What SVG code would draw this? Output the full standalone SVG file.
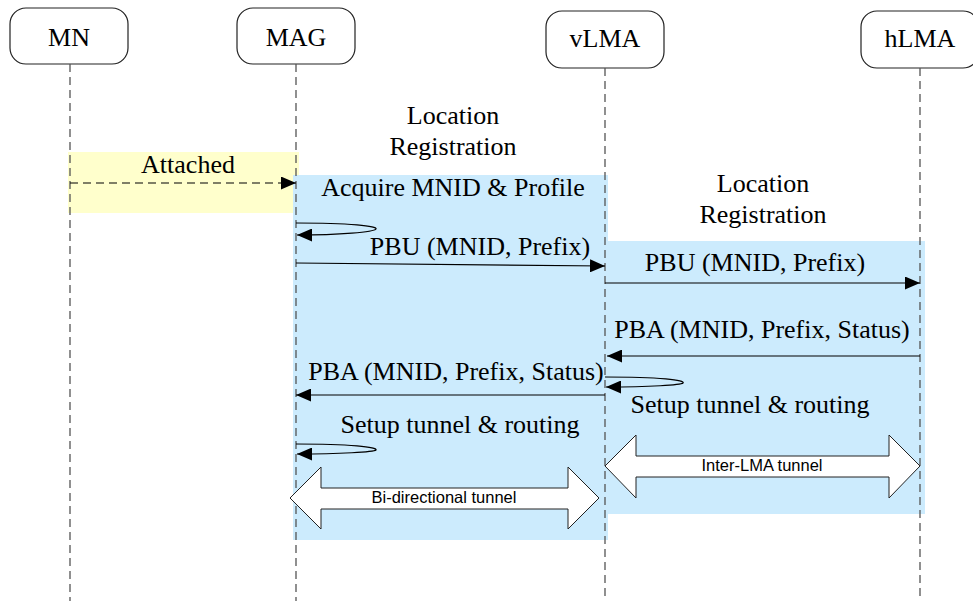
<svg xmlns="http://www.w3.org/2000/svg" width="973" height="601" viewBox="0 0 973 601">
<style>
.box{fill:#fff;stroke:#222;stroke-width:1.2}
.life{stroke:#555;stroke-width:1.3;stroke-dasharray:8 5;fill:none}
.msg{stroke:#000;stroke-width:1.2;fill:none}
.t{font-family:"Liberation Serif","Times New Roman",serif;font-size:26px;fill:#000;text-anchor:middle}
.s{font-family:"Liberation Sans",Arial,sans-serif;font-size:16.5px;fill:#000;text-anchor:middle}
.tun{fill:#fff;stroke:#222;stroke-width:1}
</style>
<defs>
<marker id="ah" markerUnits="userSpaceOnUse" markerWidth="15" markerHeight="13" refX="15" refY="6.5" orient="auto">
<path d="M0,0 L15,6.5 L0,13 z" fill="#000"/>
</marker>
</defs>
<g id="regions">
<rect x="68" y="152" width="231" height="61" fill="#FFFFCC"/>
<rect x="293" y="175" width="315" height="365" fill="#CCEBFD"/>
<rect x="607" y="241" width="318" height="273" fill="#CCEBFD"/>
</g>
<g id="node-MN">
<rect class="box" x="10" y="8" width="118" height="56" rx="16"/>
<text class="t" x="69" y="46">MN</text>
<line class="life" x1="70" y1="64" x2="70" y2="601"/>
</g>
<g id="node-MAG">
<rect class="box" x="237" y="8" width="118" height="56" rx="16"/>
<text class="t" x="296" y="46">MAG</text>
<line class="life" x1="296" y1="64" x2="296" y2="601"/>
</g>
<g id="node-vLMA">
<rect class="box" x="546" y="11" width="118" height="57" rx="16"/>
<text class="t" x="605" y="47">vLMA</text>
<line class="life" x1="605" y1="68" x2="605" y2="601"/>
</g>
<g id="node-hLMA">
<rect class="box" x="861" y="11" width="118" height="57" rx="16"/>
<text class="t" x="920" y="47">hLMA</text>
<line class="life" x1="920" y1="68" x2="920" y2="601"/>
</g>
<g id="connectors">
<line class="msg" x1="70" y1="183" x2="296" y2="183" stroke-dasharray="8 5" marker-end="url(#ah)"/>
<path class="msg" d="M296,223 C350,223 378,226 376,229 C374,232 340,235 297,235" marker-end="url(#ah)"/>
<line class="msg" x1="296" y1="263" x2="605" y2="266" marker-end="url(#ah)"/>
<line class="msg" x1="605" y1="283" x2="920" y2="283" marker-end="url(#ah)"/>
<line class="msg" x1="920" y1="356" x2="607" y2="356" marker-end="url(#ah)"/>
<path class="msg" d="M605,377 C660,377 686,380 683,383 C681,385 650,387 606,387" marker-end="url(#ah)"/>
<line class="msg" x1="605" y1="395" x2="296" y2="395" marker-end="url(#ah)"/>
<path class="msg" d="M296,444 C350,444 378,447 376,450 C374,452 340,454 297,454" marker-end="url(#ah)"/>
<polygon class="tun" points="605,466 636,435 636,456 889,456 889,435 920,466 889,498 889,477 636,477 636,498"/>
<polygon class="tun" points="290,498 321,467 321,488 568,488 568,467 599,498 568,529 568,509 321,509 321,529"/>
</g>
<g id="labels">
<text class="t" x="188" y="173">Attached</text>
<text class="t" x="453" y="124">Location</text>
<text class="t" x="453" y="155">Registration</text>
<text class="t" x="763" y="192">Location</text>
<text class="t" x="763" y="223">Registration</text>
<text class="t" x="453" y="196">Acquire MNID &amp; Profile</text>
<text class="t" x="480" y="255">PBU (MNID, Prefix)</text>
<text class="t" x="755" y="271">PBU (MNID, Prefix)</text>
<text class="t" x="762" y="338">PBA (MNID, Prefix, Status)</text>
<text class="t" x="456" y="380">PBA (MNID, Prefix, Status)</text>
<text class="t" x="750" y="413">Setup tunnel &amp; routing</text>
<text class="t" x="460" y="433">Setup tunnel &amp; routing</text>
<text class="s" x="762" y="471">Inter-LMA tunnel</text>
<text class="s" x="444" y="503">Bi-directional tunnel</text>
</g>
</svg>
